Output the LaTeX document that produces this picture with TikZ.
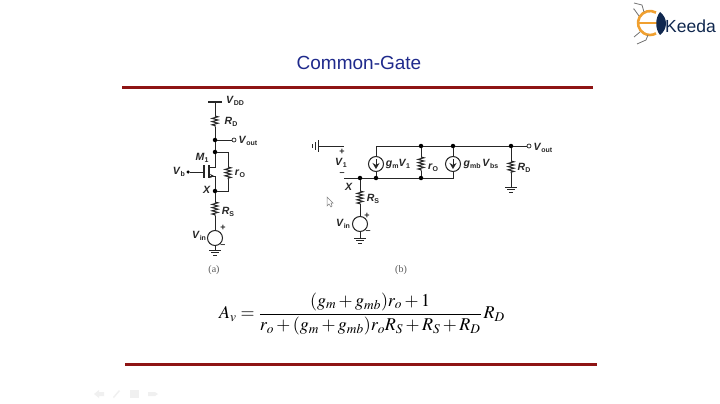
\documentclass[tikz,border=0pt]{standalone}
\usepackage{mathptmx}
\usepackage[no-math]{fontspec}
\setmainfont{Liberation Serif}
\setsansfont{Liberation Sans}
\usetikzlibrary{arrows.meta,decorations.pathmorphing}
\definecolor{titleblue}{HTML}{1F2A8C}
\definecolor{barred}{HTML}{8E1414}
\definecolor{inkdark}{HTML}{262626}
\definecolor{logoorange}{HTML}{F0A030}
\definecolor{logonavy}{HTML}{10284F}
\newcommand{\lab}[2]{\textit{#1}\raisebox{-0.35ex}{\fontsize{7}{8}\selectfont #2}}
\tikzset{
  wire/.style={draw=inkdark,line width=1pt},
  resz/.style={wire,decorate,decoration={zigzag,segment length=3.2pt,amplitude=3pt}},
  dotnode/.style={circle,fill=black,inner sep=0pt,minimum size=4.5pt},
  opennode/.style={circle,draw=inkdark,fill=white,line width=0.7pt,inner sep=0pt,minimum size=4pt},
  srcnode/.style={circle,draw=inkdark,fill=white,line width=1pt,inner sep=0pt,minimum size=15pt},
  lbl/.style={font=\sffamily\bfseries\fontsize{10.5}{12}\selectfont,text=inkdark,inner sep=0pt},
  sgn/.style={font=\sffamily\bfseries\fontsize{9}{10}\selectfont,text=inkdark,inner sep=0pt},
  caplbl/.style={font=\rmfamily\fontsize{10}{11}\selectfont,text=black!65,inner sep=0pt},
  redbar/.style={draw=barred,line width=3pt},
  legline/.style={draw=black!55,line width=0.8pt},
  faint/.style={fill=black!6,draw=none},
  pics/gndsym/.style={code={
    \draw[wire] (-6,0) -- (6,0);
    \draw[wire] (-4,2.7) -- (4,2.7);
    \draw[wire,line width=1.2pt] (-2,5.2) -- (2,5.2);
  }}
}
\begin{document}
\begin{tikzpicture}[x=1pt,y=-1pt]
    \useasboundingbox[fill=white] (0,0) rectangle (720,404);
    % Titulo e barras
    \node[font=\sffamily\fontsize{19}{22}\selectfont,text=titleblue] (titulo) at (359,63) {Common-Gate};
    \draw[redbar] (122,87) -- (593,87);
    \draw[redbar] (125,364) -- (597,364);
    % Circuito (a)
    \coordinate (vddA) at (215,102);
    \coordinate (vddL) at (208,102);
    \coordinate (vddR) at (222,102);
    \coordinate (rdAt) at (215,116);
    \coordinate (rdAb) at (215,127);
    \node[dotnode] (outA) at (215,140) {};
    \node[opennode] (voutA) at (234,140) {};
    \node[dotnode] (drainA) at (215,152) {};
    \coordinate (drTop) at (228,152);
    \coordinate (roAt) at (228,167);
    \coordinate (roAb) at (228,179);
    \coordinate (drBot) at (228,191);
    \node[dotnode] (xA) at (215,191) {};
    \coordinate (chD) at (215,167);
    \coordinate (chS) at (215,176);
    \coordinate (chDl) at (209,167);
    \coordinate (chSl) at (209,176);
    \coordinate (chT) at (209,165);
    \coordinate (chB) at (209,178);
    \coordinate (gtT) at (204,165);
    \coordinate (gtB) at (204,178);
    \coordinate (gtM) at (204,172);
    \node[dotnode,minimum size=3.5pt] (vbA) at (188,172) {};
    \coordinate (rsAt) at (215,202);
    \coordinate (rsAb) at (215,216);
    \node[srcnode] (vinA) at (215,238) {};
    \coordinate (gndA) at (215,250);
    \draw[wire,line width=1.8pt] (vddL) -- (vddR);
    \draw[wire] (vddA) -- (rdAt);
    \draw[resz] (rdAt) -- (rdAb);
    \draw[wire] (rdAb) -- (outA) -- (drainA) -- (chD) -- (chDl);
    \draw[wire] (outA) -- (voutA);
    \draw[wire] (drainA) -- (drTop) -- (roAt);
    \draw[resz] (roAt) -- (roAb);
    \draw[wire] (roAb) -- (drBot) -- (xA);
    \draw[wire,line width=1.6pt] (chT) -- (chB);
    \draw[wire,line width=1.3pt] (gtT) -- (gtB);
    \draw[wire] (vbA) -- (gtM);
    \draw[wire,-{Stealth[length=4pt,width=4pt]}] (chSl) -- ([xshift=5pt]chSl);
    \draw[wire] (chSl) -- (chS) -- (xA);
    \draw[wire] (xA) -- (rsAt);
    \draw[resz] (rsAt) -- (rsAb);
    \draw[wire] (rsAb) -- (vinA) -- (gndA);
    \pic at (gndA) {gndsym};
    % Rotulos (a)
    \node[lbl] (lVdd) at (235,101) {\lab{V}{DD}};
    \node[lbl] (lRdA) at (231,122) {\lab{R}{D}};
    \node[lbl] (lVoutA) at (248,141) {\lab{V}{out}};
    \node[lbl] (lM1) at (202,158) {\lab{M}{1}};
    \node[lbl] (lVb) at (179,172) {\lab{V}{b}};
    \node[lbl] (lRoA) at (240,174) {\lab{r}{O}};
    \node[lbl] (lXa) at (207,190) {\textit{X}};
    \node[lbl] (lRsA) at (228,212) {\lab{R}{S}};
    \node[lbl] (lVinA) at (199,236) {\lab{V}{in}};
    \node[sgn] (pA) at (223,228) {+};
    \node[sgn] (mA) at (223,246) {\textendash};
    \node[caplbl] (capA) at (214,270) {(a)};
    % Circuito (b)
    \coordinate (gndB) at (318,146);
    \coordinate (v1t) at (344,146);
    \coordinate (v1b) at (344,178);
    \node[dotnode] (xB) at (360,178) {};
    \node[dotnode] (gmBot) at (376,178) {};
    \coordinate (gmTop) at (376,146);
    \node[srcnode] (gm) at (376,164) {};
    \node[dotnode] (roT) at (421,146) {};
    \node[dotnode] (roB) at (421,178) {};
    \coordinate (roBt) at (421,157);
    \coordinate (roBb) at (421,171);
    \node[dotnode] (gmbT) at (453,146) {};
    \coordinate (gmbB) at (453,178);
    \node[srcnode] (gmb) at (453,164) {};
    \node[dotnode] (rdT) at (511,146) {};
    \coordinate (rdBt) at (511,161);
    \coordinate (rdBb) at (511,173);
    \coordinate (gndR) at (511,187);
    \node[opennode] (voutB) at (529,146) {};
    \coordinate (rsBt) at (360,191);
    \coordinate (rsBb) at (360,204);
    \node[srcnode] (vinB) at (360,224) {};
    \coordinate (gndV) at (360,238);
    \draw[wire] (gndB) -- (v1t);
    \pic[rotate=-90] at (gndB) {gndsym};
    \draw[wire] (v1b) -- (xB) -- (gmBot) -- (roB) -- (gmbB) -- (gmb) -- (gmbT);
    \draw[wire] (gmBot) -- (gm) -- (gmTop) -- (roT) -- (gmbT) -- (rdT) -- (voutB);
    \draw[wire] (roT) -- (roBt);
    \draw[resz] (roBt) -- (roBb);
    \draw[wire] (roBb) -- (roB);
    \draw[wire] (rdT) -- (rdBt);
    \draw[resz] (rdBt) -- (rdBb);
    \draw[wire] (rdBb) -- (gndR);
    \pic at (gndR) {gndsym};
    \draw[wire] (xB) -- (rsBt);
    \draw[resz] (rsBt) -- (rsBb);
    \draw[wire] (rsBb) -- (vinB) -- (gndV);
    \pic at (gndV) {gndsym};
    % Fontes de corrente
    \draw[wire,-{Stealth[length=6pt,width=7pt]}] ([yshift=5pt]gm.center) -- ([yshift=-5pt]gm.center);
    \draw[wire,-{Stealth[length=6pt,width=7pt]}] ([yshift=5pt]gmb.center) -- ([yshift=-5pt]gmb.center);
    % Rotulos (b)
    \node[sgn] (pV1) at (342,152) {+};
    \node[lbl] (lV1) at (341,163) {\lab{V}{1}};
    \node[sgn] (mV1) at (342,174) {\textendash};
    \node[lbl] (lXb) at (349,187) {\textit{X}};
    \node[lbl] (lRsB) at (373,199) {\lab{R}{S}};
    \node[lbl] (lVinB) at (343,224) {\lab{V}{in}};
    \node[sgn] (pB) at (367,216) {+};
    \node[sgn] (mB) at (368,232) {\textendash};
    \node[lbl] (lGm) at (398,164) {\lab{g}{m}\textit{V}\raisebox{-0.35ex}{\fontsize{7}{8}\selectfont 1}};
    \node[lbl] (lRoB) at (433,168) {\lab{r}{O}};
    \node[lbl] (lGmb) at (481,164) {\lab{g}{mb}\,\lab{V}{bs}};
    \node[lbl] (lRdB) at (524,168) {\lab{R}{D}};
    \node[lbl] (lVoutB) at (543,148) {\lab{V}{out}};
    \node[caplbl] (capB) at (401,270) {(b)};
    % Formula
    \node[inner sep=0pt,font=\fontsize{18}{21}\selectfont] (formula) at (362,314) {$\displaystyle A_v=\frac{(g_m+g_{mb})r_o+1}{r_o+(g_m+g_{mb})r_oR_S+R_S+R_D}\,R_D$};
    % Logo
    \draw[logoorange,line width=2.6pt] (656,12.6) arc (-60:-300:12);
    \draw[logoorange,line width=2.4pt] (639,23) -- (658,23);
    \fill[logonavy] (660,12) .. controls (668,18) and (668,29) .. (660,35) .. controls (655,29) and (655,18) .. (660,12);
    \draw[legline] (644,12) -- (642,5) -- (634,3);
    \draw[legline] (639,16) -- (634,9) -- (633,9);
    \draw[legline] (640,32) -- (634,37);
    \draw[legline] (648,35) -- (646,40) -- (637,44);
    \node[font=\sffamily\fontsize{17.5}{20}\selectfont,text=logonavy,inner sep=0pt,anchor=west] (keeda) at (665,26) {Keeda};
    % Cursor
    \draw[draw=black!50,fill=white,line width=0.5pt] (327,197) -- (327,206) -- (329,204) -- (331,207) -- (332,206) -- (331,203) -- (333,203) -- cycle;
    % Icones apagados
    \fill[faint] (94,394) -- (99,390) -- (99,392) -- (104,392) -- (104,396) -- (99,396) -- (99,398) -- cycle;
    \fill[faint] (113,397) -- (119,390) -- (120,391) -- (114,398) -- cycle;
    \fill[faint] (130,390) rectangle (139,398);
    \fill[faint] (148,392) -- (155,392) -- (158,394) -- (155,396) -- (148,396) -- cycle;
\end{tikzpicture}
\end{document}
